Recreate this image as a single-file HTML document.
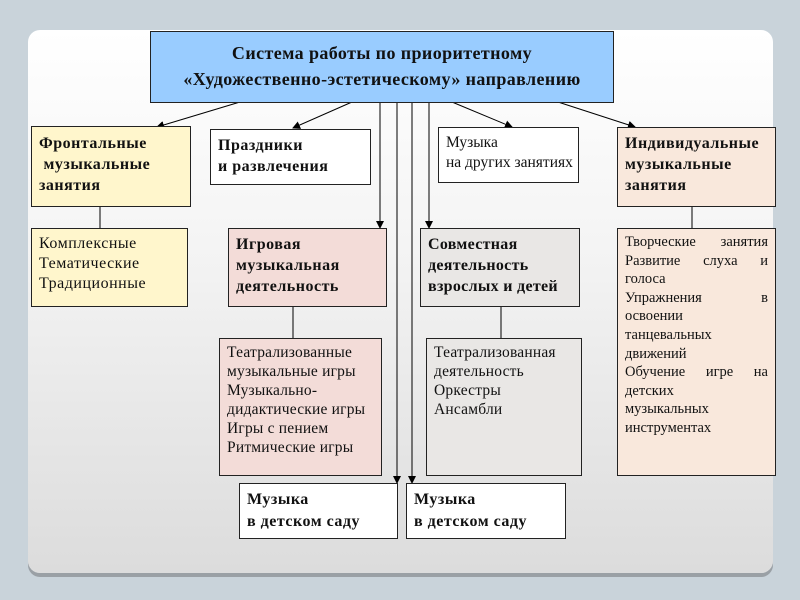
<!DOCTYPE html>
<html><head><meta charset="utf-8"><style>
body{margin:0;width:800px;height:600px;background:#c9d3da;position:relative;overflow:hidden;font-family:"Liberation Serif",serif;}
.panel{position:absolute;left:28px;top:30px;width:745px;height:543px;border-radius:12px;background:linear-gradient(#fff 0%,#f4f4f4 40%,#dcdcdc 100%);box-shadow:0 4px 0 #9aa0a5;}
.b{position:absolute;box-sizing:border-box;border:1px solid #222;font-size:16px;letter-spacing:0.5px;line-height:21px;color:#111;padding:4px 7px;white-space:nowrap;}
.bd{font-weight:bold;}
.s{font-size:15.5px;letter-spacing:0.2px;line-height:19px;}
.j div{text-align:justify;text-align-last:justify;}
.j div.n{text-align-last:left;}
svg{position:absolute;left:0;top:0;}
</style></head><body>
<div class="panel"></div>
<svg width="800" height="600">
<defs><marker id="a" markerWidth="8" markerHeight="8" refX="7" refY="4" orient="auto" markerUnits="userSpaceOnUse"><path d="M0,0 L8,4 L0,8z" fill="#000"/></marker></defs>
<g stroke="#000" stroke-width="1" fill="none">
<line x1="240" y1="102" x2="157" y2="127" marker-end="url(#a)"/>
<line x1="352" y1="102" x2="293" y2="128" marker-end="url(#a)"/>
<line x1="452" y1="102" x2="512" y2="127" marker-end="url(#a)"/>
<line x1="558" y1="102" x2="635" y2="127" marker-end="url(#a)"/>
<line x1="380" y1="102" x2="380" y2="228" marker-end="url(#a)"/>
<line x1="429" y1="102" x2="429" y2="228" marker-end="url(#a)"/>
<line x1="397" y1="102" x2="397" y2="483" marker-end="url(#a)"/>
<line x1="412" y1="102" x2="412" y2="483" marker-end="url(#a)"/>
<line x1="100" y1="206" x2="100" y2="228"/>
<line x1="692" y1="206" x2="692" y2="228"/>
<line x1="293" y1="306" x2="293" y2="338"/>
<line x1="501" y1="306" x2="501" y2="338"/>
</g></svg>
<div class="b bd" style="left:150px;top:31px;width:464px;height:72px;background:#99ccff;text-align:center;font-size:18px;letter-spacing:0.4px;line-height:26px;padding-top:8px">Система работы по приоритетному<br>«Художественно-эстетическому» направлению</div>
<div class="b bd" style="left:31px;top:126px;width:160px;height:81px;background:#fff6cc;padding-top:6px">Фронтальные<br>&nbsp;музыкальные<br>занятия</div>
<div class="b" style="left:31px;top:228px;width:157px;height:79px;background:#fff6cc;padding-top:5px;line-height:20px">Комплексные<br>Тематические<br>Традиционные</div>
<div class="b bd" style="left:210px;top:129px;width:161px;height:56px;background:#fff;padding-top:5px">Праздники<br>и развлечения</div>
<div class="b bd" style="left:228px;top:228px;width:159px;height:79px;background:#f3dcd8;padding-top:5px;line-height:21px">Игровая<br>музыкальная<br>деятельность</div>
<div class="b s" style="left:219px;top:338px;width:163px;height:138px;background:#f3dcd8;padding-top:4px">Театрализованные<br>музыкальные игры<br>Музыкально-<br>дидактические игры<br>Игры с пением<br>Ритмические игры</div>
<div class="b" style="left:438px;top:127px;width:141px;height:56px;background:#fff;padding-top:5px;line-height:20px;letter-spacing:0;font-size:15.5px">Музыка<br>на других занятиях</div>
<div class="b bd" style="left:420px;top:228px;width:160px;height:79px;background:#e9e7e5;padding-top:5px;line-height:21px;letter-spacing:0.3px">Совместная<br>деятельность<br>взрослых и детей</div>
<div class="b s" style="left:426px;top:338px;width:156px;height:138px;background:#e9e7e5;padding-top:4px">Театрализованная<br>деятельность<br>Оркестры<br>Ансамбли</div>
<div class="b bd" style="left:617px;top:127px;width:159px;height:80px;background:#f9e8dc;padding-top:5px">Индивидуальные<br>музыкальные<br>занятия</div>
<div class="b j" style="left:617px;top:228px;width:159px;height:248px;background:#f9e8dc;padding:4px 7px;line-height:18.6px;font-size:14.5px;letter-spacing:0">
<div>Творческие занятия</div><div>Развитие слуха и</div><div class="n">голоса</div><div>Упражнения в</div><div class="n">освоении</div><div class="n">танцевальных</div><div class="n">движений</div><div>Обучение игре на</div><div class="n">детских</div><div class="n">музыкальных</div><div class="n">инструментах</div></div>
<div class="b bd" style="left:239px;top:483px;width:159px;height:56px;background:#fff;padding-top:5px;line-height:22px">Музыка<br>в детском саду</div>
<div class="b bd" style="left:406px;top:483px;width:160px;height:56px;background:#fff;padding-top:5px;line-height:22px">Музыка<br>в детском саду</div>
</body></html>
